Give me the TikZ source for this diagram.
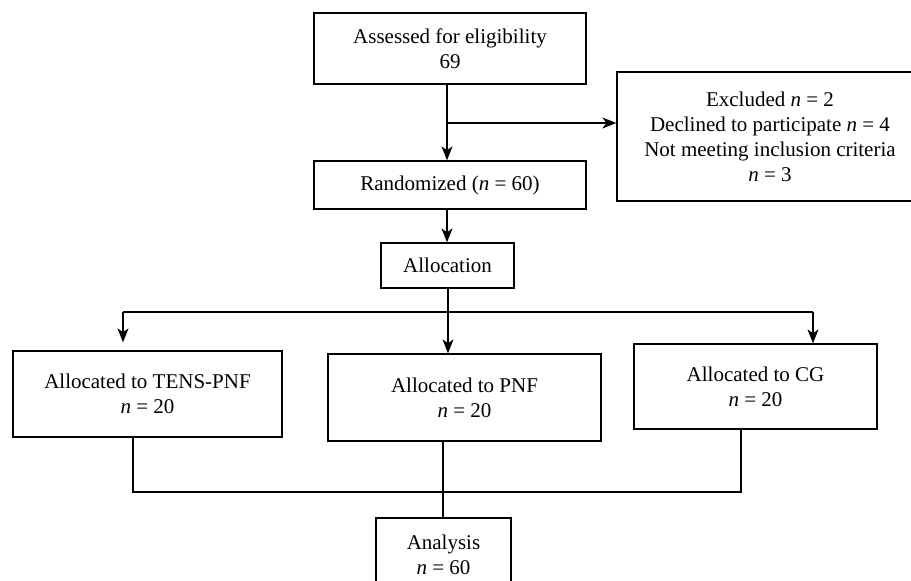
\documentclass[tikz,border=0pt]{standalone}
\usepackage{fontspec}
\setmainfont{Liberation Serif}
\usetikzlibrary{arrows.meta,calc}
\begin{document}
\begin{tikzpicture}[x=1pt,y=-1pt,
  box/.style={draw, line width=1.3pt, align=center, inner sep=0pt, font=\fontsize{21}{25}\selectfont},
  arr/.style={line width=1.3pt, -{Stealth[length=14pt,width=11pt,inset=4pt]}},
  ln/.style={line width=1.3pt}]
\useasboundingbox (0,0) rectangle (911,581);
\node[box, minimum width=272pt, minimum height=71pt] (assess) at (450,48.5) {Assessed for eligibility\\69};
\node[box, minimum width=306pt, minimum height=129pt] (excl) at (770,136.5) {Excluded \textit{n} = 2\\Declined to participate \textit{n} = 4\\Not meeting inclusion criteria\\\textit{n} = 3};
\node[box, minimum width=272pt, minimum height=48pt] (rand) at (450,185) {Randomized (\textit{n} = 60)};
\node[box, minimum width=133pt, minimum height=45pt] (alloc) at (447.5,265.5) {Allocation};
\node[box, minimum width=269pt, minimum height=86pt] (tens) at (147.5,394) {Allocated to TENS-PNF\\\textit{n} = 20};
\node[box, minimum width=273pt, minimum height=87pt] (pnf) at (464.5,397.5) {Allocated to PNF\\\textit{n} = 20};
\node[box, minimum width=243pt, minimum height=85pt] (cg) at (755.5,386.5) {Allocated to CG\\\textit{n} = 20};
\node[box, minimum width=135pt, minimum height=74pt] (ana) at (443.5,555) {Analysis\\\textit{n} = 60};
% top part
\coordinate (j1) at (447,123);
\draw[arr] (assess.south -| j1) -- (rand.north -| j1);
\draw[arr] (j1) -- (excl.west |- j1);
\draw[arr] (rand.south -| j1) -- (alloc.north -| j1);
% allocation split
\coordinate (hl) at (123,312);
\coordinate (hm) at (448,312);
\coordinate (hr) at (813,312);
\draw[ln] (hl) -- (hr);
\draw[arr] (alloc.south -| hm) -- (pnf.north -| hm);
\draw[arr, shorten >=8pt] (hl) -- (hl |- tens.north);
\draw[arr] (hr) -- (hr |- cg.north);
% merge
\coordinate (bl) at (133,492);
\coordinate (bm) at (443,492);
\coordinate (br) at (741,492);
\draw[ln] (tens.south -| bl) -- (bl) -- (br) -- (cg.south -| br);
\draw[ln] (pnf.south -| bm) -- (bm) -- (ana.north -| bm);
\end{tikzpicture}
\end{document}
